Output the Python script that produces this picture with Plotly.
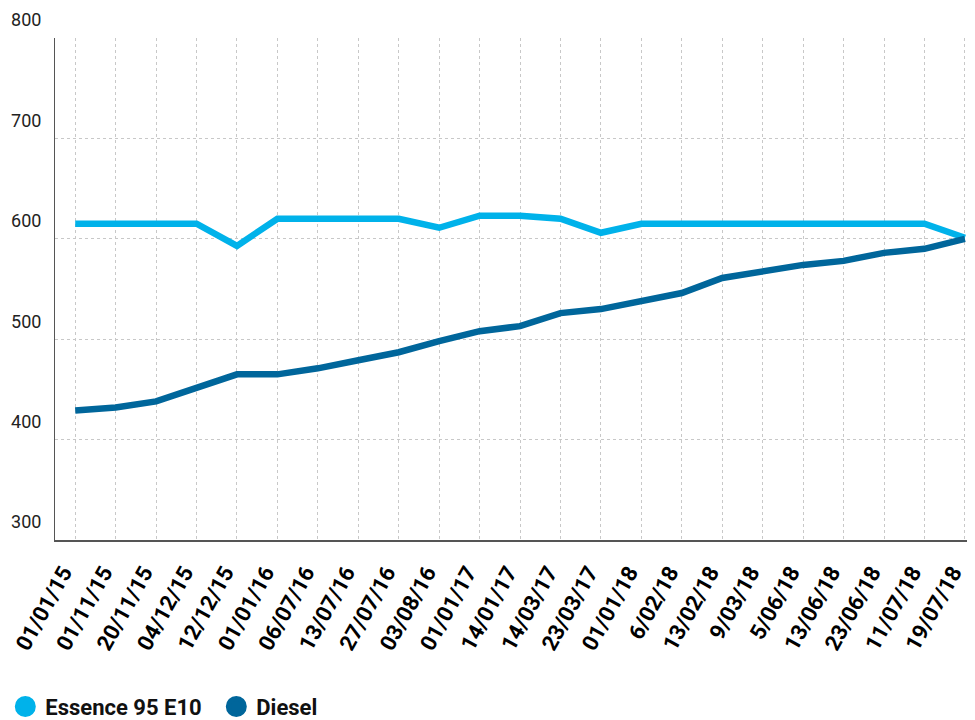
import plotly.graph_objects as go

dates = ["01/01/15", "01/11/15", "20/11/15", "04/12/15", "12/12/15", "01/01/16",
         "06/07/16", "13/07/16", "27/07/16", "03/08/16", "01/01/17", "14/01/17",
         "14/03/17", "23/03/17", "01/01/18", "6/02/18", "13/02/18", "9/03/18",
         "5/06/18", "13/06/18", "23/06/18", "11/07/18", "19/07/18"]

essence = [615, 615, 615, 615, 593, 620, 620, 620, 620, 611, 623, 623,
           620, 606, 615, 615, 615, 615, 615, 615, 615, 615, 601]

diesel = [429, 432, 438, 452, 465, 465, 471, 479, 487, 498, 508, 513,
          526, 530, 538, 546, 561, 567, 574, 578, 586, 590, 600]

y_ticks = [300, 400, 500, 600, 700, 800]

c_ess = "#00b2ea"
c_die = "#00669b"

x_idx = list(range(len(dates)))

fig = go.Figure()
fig.add_trace(go.Scatter(x=x_idx, y=essence, mode="lines", name="Essence 95 E10",
                         line=dict(color=c_ess, width=6.5), showlegend=False))
fig.add_trace(go.Scatter(x=x_idx, y=diesel, mode="lines", name="Diesel",
                         line=dict(color=c_die, width=6.5), showlegend=False))
# legend-only entries (circle symbols)
fig.add_trace(go.Scatter(x=[None], y=[None], mode="markers", name="Essence 95 E10",
                         marker=dict(color=c_ess, size=16, symbol="circle",
                                     line=dict(color=c_ess, width=5))))
fig.add_trace(go.Scatter(x=[None], y=[None], mode="markers", name="Diesel",
                         marker=dict(color=c_die, size=16, symbol="circle",
                                     line=dict(color=c_die, width=5))))

# page has an 8px body margin, so the figure is 967x712 placed at (8, 8)
fig.update_layout(
    width=967, height=712,
    margin=dict(l=47, r=0, t=30, b=180, autoexpand=False),
    plot_bgcolor="white", paper_bgcolor="white",
    font=dict(family="Roboto, sans-serif", color="#222"),
    legend=dict(orientation="h", x=-0.054, xanchor="left", y=-0.332, yanchor="middle",
                font=dict(size=22, color="#111", family="Roboto, sans-serif", weight="bold"),
                itemsizing="trace", entrywidth=166, traceorder="normal"),
    xaxis=dict(
        range=[-0.5, 22.25],
        tickmode="array", tickvals=x_idx, ticktext=dates,
        tickangle=-61,
        tickfont=dict(size=22, color="#000", family="Roboto, sans-serif", weight="bold"),
        showgrid=True, gridcolor="#c8c8c8", griddash="dot", gridwidth=1,
        showline=True, linecolor="#555", linewidth=2,
        ticks="", zeroline=False, automargin=False,
        ticklabeloverflow="allow", ticklabelstandoff=9, ticklabelshift=-12,
    ),
    yaxis=dict(
        range=[300, 800],
        tickmode="array", tickvals=y_ticks,
        ticklabelposition="outside",
        ticklabelshift=-18,
        tickfont=dict(size=18, color="#222"),
        showgrid=True, gridcolor="#c8c8c8", griddash="dot", gridwidth=1,
        showline=True, linecolor="#555", linewidth=1,
        ticks="", zeroline=False, ticklabelstandoff=9, automargin=False,
    ),
)

fig.write_html("out.html")
